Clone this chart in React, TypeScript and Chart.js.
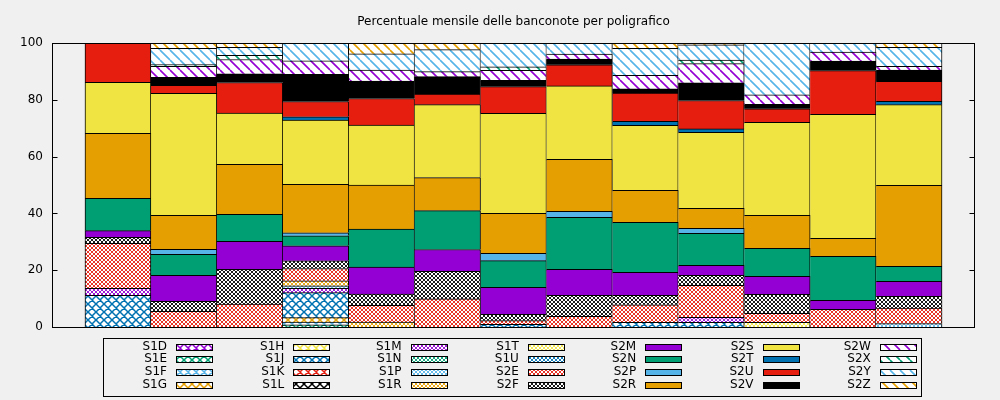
import React, { useEffect, useRef } from "react";
import { Chart, registerables } from "chart.js";

Chart.register(...registerables);

const titleText = "Percentuale mensile delle banconote per poligrafico";
const months = ["M1", "M2", "M3", "M4", "M5", "M6", "M7", "M8", "M9", "M10", "M11", "M12", "M13"];
const yTickValues = [0, 20, 40, 60, 80, 100];

const seriesNames = [
  "S1D", "S1E", "S1F", "S1G", "S1H", "S1J", "S1K", "S1L",
  "S1M", "S1N", "S1P", "S1R", "S1T", "S1U", "S2E", "S2F",
  "S2M", "S2N", "S2P", "S2R", "S2S", "S2T", "S2U", "S2V",
  "S2W", "S2X", "S2Y", "S2Z",
];

const S1D = [0, 0, 0, 0, 0, 0, 0, 0, 0, 0, 0, 0, 0];
const S1E = [0, 0, 0, 0.8, 0, 0, 0, 0, 0, 0, 0, 0, 0];
const S1F = [0, 0, 0, 0.9, 0, 0, 0, 0, 0, 0, 0, 0, 0];
const S1G = [0, 0, 0, 1.6, 0, 0, 0, 0, 0, 0, 0, 0, 0];
const S1H = [0, 0, 0, 0, 0, 0, 0, 0, 0, 0, 0, 0, 0];
const S1J = [11.15, 0, 0, 8.8, 0, 0, 0.95, 0, 1.64, 1.64, 0, 0, 0];
const S1K = [0, 0, 0, 0, 0, 0, 0, 0, 0, 0, 0, 0, 0];
const S1L = [0, 0, 0, 0, 0, 0, 0, 0, 0, 0, 0, 0, 0];
const S1M = [2.46, 0, 0, 1.5, 0, 0, 0, 0, 0, 1.76, 0, 0, 0];
const S1N = [0, 0, 0, 0, 0, 0, 0, 0, 0, 0, 0, 0, 0];
const S1P = [0, 0, 0, 0.9, 0, 0, 0, 0, 0, 0, 0, 0, 1.2];
const S1R = [0, 0, 0, 1.8, 1.76, 0, 0, 0, 0, 0, 0, 0, 0];
const S1T = [0, 0, 0, 0, 0, 0, 0, 0, 0, 0, 1.64, 0, 0];
const S1U = [0, 0, 0, 0, 0, 0, 0, 0, 0, 0, 0, 0, 0];
const S2E = [15.85, 5.5, 8.1, 4.3, 5.9, 9.9, 1.3, 3.75, 6.2, 11.3, 3.2, 6.2, 5.5];
const S2F = [2.11, 3.5, 12.2, 2.7, 3.9, 9.7, 2.2, 7.4, 3.3, 3.5, 6.7, 0, 4.1];
const S2M = [2.35, 9.15, 9.9, 5.3, 9.5, 7.7, 9.5, 9.15, 8.1, 3.5, 6.3, 3.2, 5.3];
const S2N = [11.38, 7.4, 9.5, 3.5, 13.4, 13.7, 9.4, 18.3, 17.6, 11.3, 9.9, 15.5, 5.3];
const S2P = [0, 1.76, 0, 1.1, 0, 0, 2.6, 2.1, 0, 1.76, 0, 0, 0];
const S2R = [22.89, 12, 17.6, 17, 15.5, 11.6, 14.1, 18.3, 11.3, 7, 11.6, 6.3, 28.5];
const S2S = [17.96, 42.96, 18, 22.7, 21.1, 25.7, 35.2, 25.9, 22.9, 26.8, 32.7, 43.7, 28.4];
const S2T = [0, 0, 0, 1.1, 0, 0, 0, 0, 1.4, 1.2, 0, 0, 1.2];
const S2U = [13.85, 2.8, 10.8, 5.4, 9.4, 3.75, 9.4, 7.4, 9.9, 10, 4.8, 15.4, 7];
const S2V = [0, 2.8, 3.05, 9.6, 6.1, 6.1, 2.2, 2, 1.5, 6.2, 1.6, 3.3, 4];
const S2W = [0, 3.9, 5.05, 4.7, 3.9, 1.76, 3.5, 1.76, 4.8, 6.8, 3.3, 3.2, 1.3];
const S2X = [0, 0.6, 1.5, 0, 0, 0, 1.3, 0, 0, 1.2, 0, 0, 0];
const S2Y = [0, 5.75, 2.8, 6.2, 5.75, 7.75, 8.3, 3.9, 9.5, 5.4, 18.2, 3.3, 6.7];
const S2Z = [0, 1.9, 1.5, 0, 3.9, 2.2, 0, 0, 1.9, 0.7, 0, 0, 1.5];

const seriesValues = [
  S1D, S1E, S1F, S1G, S1H, S1J, S1K, S1L,
  S1M, S1N, S1P, S1R, S1T, S1U, S2E, S2F,
  S2M, S2N, S2P, S2R, S2S, S2T, S2U, S2V,
  S2W, S2X, S2Y, S2Z,
];

const palette = ["#9400d3", "#009e73", "#56b4e9", "#e69f00", "#f0e442", "#0072b2", "#e51e10", "#000000"];
const FONT = '"DejaVu Sans", "Liberation Sans", sans-serif';

// kind: 0 coarse crosshatch, 1 fine crosshatch, 2 solid, 3 diagonal "\"
function makeFill(kind: number, color: string): any {
  if (kind === 2) return color;
  const s = kind === 0 ? 8 : kind === 1 ? 4 : 10;
  const c = document.createElement("canvas");
  c.width = s;
  c.height = s;
  const g = c.getContext("2d")!;
  g.fillStyle = "#ffffff";
  g.fillRect(0, 0, s, s);
  g.strokeStyle = color;
  g.lineWidth = kind === 0 ? 1.5 : kind === 1 ? 0.9 : 1.6;
  g.beginPath();
  for (const k of [-s, 0, s]) {
    g.moveTo(k, 0);
    g.lineTo(k + s, s);
    if (kind !== 3) {
      g.moveTo(k + s, 0);
      g.lineTo(k, s);
    }
  }
  g.stroke();
  return g.createPattern(c, "repeat");
}

export default function App() {
  const ref = useRef<HTMLCanvasElement>(null);

  useEffect(() => {
    const fills = seriesNames.map((_, i) => makeFill(Math.floor(i / 8), palette[i % 8]));

    const overlay = {
      id: "overlay",
      afterDraw(chart: any) {
        const ctx = chart.ctx as CanvasRenderingContext2D;
        const a = chart.chartArea;
        const ys = chart.scales.y;
        ctx.save();
        ctx.strokeStyle = "#000";
        ctx.lineWidth = 1;
        const L = Math.round(a.left) + 0.5;
        const R = Math.round(a.right) - 0.5;
        const T = Math.round(a.top) + 0.5;
        const B = Math.round(a.bottom) + 0.5;
        ctx.strokeRect(L, T, R - L, B - T);
        ctx.beginPath();
        for (const v of yTickValues) {
          const py = Math.round(ys.getPixelForValue(v)) + 0.5;
          ctx.moveTo(L, py);
          ctx.lineTo(L + 5, py);
          ctx.moveTo(R, py);
          ctx.lineTo(R - 5, py);
        }
        ctx.stroke();
        ctx.fillStyle = "#000";
        ctx.font = `12px ${FONT}`;
        ctx.textAlign = "center";
        ctx.textBaseline = "middle";
        ctx.fillText(titleText, (a.left + a.right) / 2, 22);
        ctx.strokeRect(103.5, 338.5, 818, 58);
        ctx.textAlign = "right";
        seriesNames.forEach((name, i) => {
          const col = Math.floor(i / 4);
          const row = i % 4;
          const cy = 346.5 + row * 12.7;
          const tx = 167 + col * 117.3;
          ctx.fillStyle = "#000";
          ctx.fillText(name, tx, cy);
          const sx = Math.round(176 + col * 117.3);
          const sy = Math.round(cy - 3);
          ctx.fillStyle = fills[i];
          ctx.fillRect(sx, sy, 37, 6);
          ctx.strokeRect(sx + 0.5, sy + 0.5, 36, 6);
        });
        ctx.restore();
      },
    };

    const datasets = seriesNames.map((name, i) => ({
      label: name,
      data: seriesValues[i].map((v, j) => ({ x: j + 1, y: v > 0 ? v : null })),
      backgroundColor: fills[i],
      borderColor: "#000",
      borderWidth: (c: any) => ({ left: c.dataIndex === 0 ? 1 : 0, right: 1, top: 1, bottom: 0 }),
      borderSkipped: false,
      barPercentage: 1,
      categoryPercentage: 1,
    }));

    const chart = new Chart(ref.current!, {
      type: "bar",
      data: { labels: months, datasets: datasets as any },
      options: {
        animation: false,
        responsive: false,
        devicePixelRatio: 1,
        layout: { padding: { left: 0, top: 43, right: 25, bottom: 73 } },
        plugins: {
          legend: { display: false },
          title: { display: false },
          tooltip: { enabled: false },
        },
        scales: {
          x: { type: "linear", min: 0, max: months.length + 1, offset: false, stacked: true, display: false },
          y: {
            stacked: true,
            min: 0,
            max: 100,
            ticks: { stepSize: 20, color: "#000", font: { family: FONT, size: 12 }, padding: 9 },
            grid: { display: false, drawTicks: false },
            border: { display: false },
            afterFit: (s: any) => {
              s.width = 52;
            },
          },
        },
      } as any,
      plugins: [overlay],
    });
    return () => chart.destroy();
  }, []);

  return (
    <div style={{ position: "absolute", left: 0, top: 0, width: 1000, height: 400, background: "#f0f0f0" }}>
      <canvas ref={ref} width={1000} height={400} style={{ display: "block", width: 1000, height: 400 }} />
    </div>
  );
}
